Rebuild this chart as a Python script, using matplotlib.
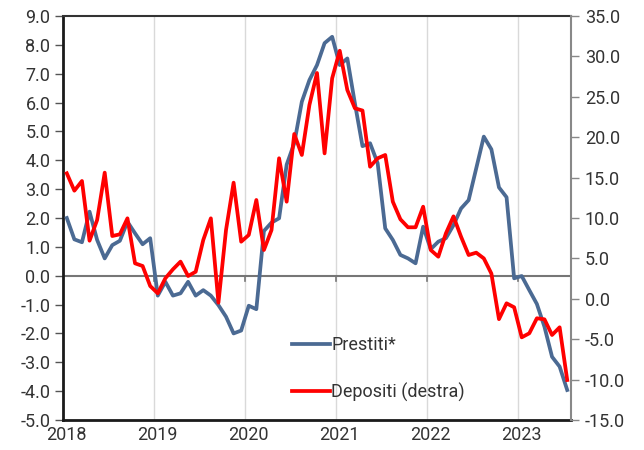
import numpy as np
import matplotlib.pyplot as plt
from matplotlib.ticker import FormatStrFormatter
from matplotlib.transforms import ScaledTranslation

plt.rcParams['font.family'] = ['Roboto', 'DejaVu Sans']

# monthly data, Jan 2018 - Jul 2023
years = ['2018', '2019', '2020', '2021', '2022', '2023']

prestiti = [
    2.0, 1.26, 1.16, 2.22, 1.24, 0.6, 1.06, 1.21, 1.87, 1.47, 1.09, 1.3,
    -0.69, -0.21, -0.69, -0.61, -0.21, -0.69, -0.5, -0.69, -1.02, -1.42, -2.0, -1.9,
    -1.04, -1.16, 1.55, 1.84, 1.99, 3.85, 4.59, 6.03, 6.78, 7.3, 8.06, 8.28,
    7.3, 7.53, 5.97, 4.49, 4.59, 3.9, 1.64, 1.24, 0.72, 0.6, 0.43, 1.7,
    0.92, 1.18, 1.3, 1.75, 2.33, 2.62, 3.72, 4.82, 4.38, 3.06, 2.72, -0.09,
    -0.01, -0.5, -0.98, -1.77, -2.81, -3.15, -3.96,
]

depositi = [
    15.53, 13.38, 14.58, 7.19, 9.75, 15.61, 7.77, 7.98, 9.96, 4.39, 4.06, 1.58,
    0.68, 2.54, 3.65, 4.6, 2.82, 3.35, 7.28, 9.96, -0.48, 8.51, 14.37, 7.07,
    7.9, 12.23, 6.04, 8.51, 17.39, 12.02, 20.4, 17.8, 23.99, 27.95, 18.0, 27.29,
    30.7, 25.84, 23.58, 23.3, 16.35, 17.39, 17.8, 12.02, 9.84, 8.85, 8.85, 11.4,
    6.04, 5.21, 8.1, 10.2, 7.68, 5.42, 5.71, 5.0, 3.12, -2.52, -0.56, -1.05,
    -4.77, -4.27, -2.41, -2.54, -4.48, -3.53, -10.05,
]

blue = '#4B6A93'
red = '#FF0000'
txt = '#333333'

x = np.arange(len(prestiti))

fig = plt.figure(figsize=(6.44, 4.5), dpi=100)
ax = fig.add_axes([63 / 644, 30 / 450, 508 / 644, 404 / 450])
ax2 = ax.twinx()

ax.set_xlim(-0.5, len(prestiti) - 0.5)
ax.set_ylim(-5, 9)
ax2.set_ylim(-15, 35)

# year gridlines
for k in range(1, len(years)):
    ax.axvline(12 * k - 0.5, color='#D9D9D9', lw=1, zorder=0)

# zero line acts as the category axis, with ticks pointing down
ax.axhline(0, color='#767676', lw=1.5, zorder=1)
for k in range(1, len(years) + 1):
    ax.plot([12 * k - 0.5] * 2, [0, -0.2], color='#767676', lw=1.2, zorder=1)

ax.plot(x, prestiti, color=blue, lw=2.7, zorder=3, label='Prestiti*')
ax2.plot(x, depositi, color=red, lw=2.7, zorder=3, label='Depositi (destra)')

ax.set_yticks(np.arange(-5, 10, 1))
ax.yaxis.set_major_formatter(FormatStrFormatter('%.1f'))
ax2.set_yticks(np.arange(-15, 40, 5))
ax2.yaxis.set_major_formatter(FormatStrFormatter('%.1f'))

ax.set_xticks([12 * k - 0.5 for k in range(len(years))])
ax.set_xticklabels(years)
ax.tick_params(axis='x', length=0, pad=4, labelsize=13, colors=txt)
ax.tick_params(axis='y', length=6, width=1, color='#555555', pad=3,
               labelsize=13, labelcolor=txt)
ax2.tick_params(axis='y', length=6, width=1, color='#888888', pad=4,
                labelsize=13, labelcolor=txt)
shift = ScaledTranslation(3 / 100, 0, fig.dpi_scale_trans)
for lab in ax.get_xticklabels():
    lab.set_transform(lab.get_transform() + shift)

for a in (ax, ax2):
    for s in a.spines.values():
        s.set_visible(False)
ax.spines['left'].set_visible(True)
ax.spines['left'].set_color('#1a1a1a')
ax.spines['left'].set_linewidth(2)
ax.spines['bottom'].set_visible(True)
ax.spines['bottom'].set_color('#1a1a1a')
ax.spines['bottom'].set_linewidth(2)
ax.spines['top'].set_visible(True)
ax.spines['top'].set_color('#333333')
ax.spines['top'].set_linewidth(1.5)
ax2.spines['right'].set_visible(True)
ax2.spines['right'].set_color('#888888')
ax2.spines['right'].set_linewidth(1.5)

h1, l1 = ax.get_legend_handles_labels()
h2, l2 = ax2.get_legend_handles_labels()
leg = ax2.legend(h1 + h2, l1 + l2, loc='upper left', bbox_to_anchor=(0.45, 0.207),
                 frameon=False, fontsize=13, handlelength=2.1, handletextpad=0.1,
                 labelspacing=1.55, borderpad=0, borderaxespad=0)
for t in leg.get_texts():
    t.set_color(txt)

fig.savefig('out.png', dpi=100)
